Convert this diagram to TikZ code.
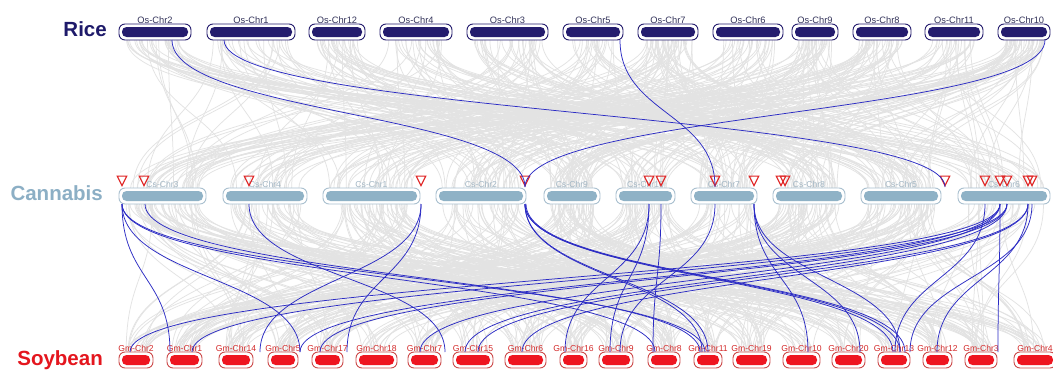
\documentclass[tikz,border=0pt]{standalone}
\usepackage{fontspec}
\setmainfont{Liberation Sans}
\usetikzlibrary{shapes.geometric}
\definecolor{osbar}{HTML}{241C6E}
\definecolor{oslabc}{HTML}{33335A}
\definecolor{ostitle}{HTML}{1E1A6A}
\definecolor{csbar}{HTML}{8FB2C6}
\definecolor{csedge}{HTML}{A9C0CF}
\definecolor{cslabc}{HTML}{A2B6C4}
\definecolor{cstitle}{HTML}{8CAFC5}
\definecolor{gmbar}{HTML}{EE1520}
\definecolor{gmedge}{HTML}{CC4A4A}
\definecolor{gmlabc}{HTML}{D42A2A}
\definecolor{gmtitle}{HTML}{E4161E}
\definecolor{linkblue}{HTML}{2B2BC4}
\definecolor{linkgray}{HTML}{E3E3E3}
\definecolor{trired}{HTML}{E02424}
\tikzset{
  osbox/.style={draw=osbar, line width=0.9pt, fill=white, rounded corners=6pt, inner sep=0pt, outer sep=0pt, label distance=1.5pt},
  osbarst/.style={fill=osbar, rounded corners=4.5pt},
  oslab/.style={font=\fontsize{9.3}{10}\selectfont, text=oslabc, inner sep=0pt},
  csbox/.style={draw=csedge, line width=0.9pt, fill=white, rounded corners=6pt, inner sep=0pt, outer sep=0pt, label distance=2pt},
  csbarst/.style={fill=csbar, rounded corners=4.5pt},
  cslab/.style={font=\fontsize{8.6}{10}\selectfont, text=cslabc, inner sep=0pt},
  gmbox/.style={draw=gmedge, line width=0.9pt, fill=white, rounded corners=6pt, inner sep=0pt, outer sep=0pt, label distance=2.5pt},
  gmbarst/.style={fill=gmbar, rounded corners=4.5pt},
  gmlab/.style={font=\fontsize{8.6}{10}\selectfont, text=gmlabc, inner sep=0pt},
  title/.style={font=\fontsize{20.5}{22}\selectfont\bfseries, inner sep=0pt, anchor=base east},
  graylink/.style={draw=linkgray, line width=0.75pt},
  bluelink/.style={draw=linkblue, line width=0.75pt},
  tri/.style={isosceles triangle, isosceles triangle stretches, shape border rotate=-90,
    minimum width=9.5pt, minimum height=9.5pt, inner sep=0pt, draw=trired, line width=1.1pt, anchor=apex},
}
\newcommand\chrom[7]{%
  \node[#6box, minimum width={#3-#2}, minimum height={#5-#4}, anchor=north west,
        label={[#6lab]above:#7}] (#1) at (#2,#4) {};
  \fill[#6barst] (#2+3,#4+3) rectangle (#3-3,#5-3);}
\newcommand\glink[3]{%
  \coordinate (gs#1) at (#2,204);
  \coordinate (ge#1) at (#3,352);
  \draw[bluelink] (gs#1) .. controls +(0,74) and +(0,-74) .. (ge#1);}
\def\osL{{119,207,309,380,467,563,638,713,792,853,925,998}}
\def\osR{{191,295,365,452,548,623,698,783,838,911,983,1050}}
\def\csL{{119,223,323,436,544,616,691,773,861,958}}
\def\csR{{206,307,420,526,600,675,757,845,941,1050}}
\def\gmL{{119,167,219,268,312,356,408,453,505,560,599,648,694,733,783,832,878,923,965,1014}}
\def\gmR{{153,202,253,298,343,397,441,493,546,587,633,680,722,770,820,865,910,952,997,1053}}
\begin{document}
\begin{tikzpicture}[x=1pt,y=-1pt]
\useasboundingbox (0,0) rectangle (1053,372);
\fill[white] (0,0) rectangle (1053,372);
\clip (0,0) rectangle (1053,372);
% background synteny (gray)
\pgfmathsetseed{2024}
\foreach \i in {1,...,400}{
  \pgfmathsetmacro\ka{int(random(0,11))}
  \pgfmathsetmacro\kb{int(random(0,9))}
  \pgfmathsetmacro\xa{\osL[\ka]+6+rnd*(\osR[\ka]-\osL[\ka]-12)}
  \pgfmathsetmacro\xb{\csL[\kb]+6+rnd*(\csR[\kb]-\csL[\kb]-12)}
  \draw[graylink] (\xa,40) .. controls (\xa,114) and (\xb,114) .. (\xb,188);
}
\foreach \i in {1,...,440}{
  \pgfmathsetmacro\ka{int(random(0,9))}
  \pgfmathsetmacro\kb{int(random(0,19))}
  \pgfmathsetmacro\xa{\csL[\ka]+6+rnd*(\csR[\ka]-\csL[\ka]-12)}
  \pgfmathsetmacro\xb{\gmL[\kb]+5+rnd*(\gmR[\kb]-\gmL[\kb]-10)}
  \draw[graylink] (\xa,204) .. controls (\xa,278) and (\xb,278) .. (\xb,352);
}
% titles
\node[title, text=ostitle] (rice) at (107,36) {Rice};
\node[title, text=cstitle] (cannabis) at (103,200) {Cannabis};
\node[title, text=gmtitle] (soybean) at (103,365) {Soybean};
% rice chromosomes
\chrom{os2}{119}{191}{24}{40}{os}{Os-Chr2}
\chrom{os1}{207}{295}{24}{40}{os}{Os-Chr1}
\chrom{os12}{309}{365}{24}{40}{os}{Os-Chr12}
\chrom{os4}{380}{452}{24}{40}{os}{Os-Chr4}
\chrom{os3}{467}{548}{24}{40}{os}{Os-Chr3}
\chrom{os5}{563}{623}{24}{40}{os}{Os-Chr5}
\chrom{os7}{638}{698}{24}{40}{os}{Os-Chr7}
\chrom{os6}{713}{783}{24}{40}{os}{Os-Chr6}
\chrom{os9}{792}{838}{24}{40}{os}{Os-Chr9}
\chrom{os8}{853}{911}{24}{40}{os}{Os-Chr8}
\chrom{os11}{925}{983}{24}{40}{os}{Os-Chr11}
\chrom{os10}{998}{1050}{24}{40}{os}{Os-Chr10}
% cannabis chromosomes
\chrom{cs3}{119}{206}{188}{204}{cs}{Cs-Chr3}
\chrom{cs4}{223}{307}{188}{204}{cs}{Cs-Chr4}
\chrom{cs1}{323}{420}{188}{204}{cs}{Cs-Chr1}
\chrom{cs2}{436}{526}{188}{204}{cs}{Cs-Chr2}
\chrom{cs9}{544}{600}{188}{204}{cs}{Cs-Chr9}
\chrom{cs10}{616}{675}{188}{204}{cs}{Cs-Chr10}
\chrom{cs7}{691}{757}{188}{204}{cs}{Cs-Chr7}
\chrom{cs8}{773}{845}{188}{204}{cs}{Cs-Chr8}
\chrom{cs5}{861}{941}{188}{204}{cs}{Cs-Chr5}
\chrom{cs6}{958}{1050}{188}{204}{cs}{Cs-Chr6}
% soybean chromosomes
\chrom{gm2}{119}{153}{352}{368}{gm}{Gm-Chr2}
\chrom{gm1}{167}{202}{352}{368}{gm}{Gm-Chr1}
\chrom{gm14}{219}{253}{352}{368}{gm}{Gm-Chr14}
\chrom{gm5}{268}{298}{352}{368}{gm}{Gm-Chr5}
\chrom{gm17}{312}{343}{352}{368}{gm}{Gm-Chr17}
\chrom{gm18}{356}{397}{352}{368}{gm}{Gm-Chr18}
\chrom{gm7}{408}{441}{352}{368}{gm}{Gm-Chr7}
\chrom{gm15}{453}{493}{352}{368}{gm}{Gm-Chr15}
\chrom{gm6}{505}{546}{352}{368}{gm}{Gm-Chr6}
\chrom{gm16}{560}{587}{352}{368}{gm}{Gm-Chr16}
\chrom{gm9}{599}{633}{352}{368}{gm}{Gm-Chr9}
\chrom{gm8}{648}{680}{352}{368}{gm}{Gm-Chr8}
\chrom{gm11}{694}{722}{352}{368}{gm}{Gm-Chr11}
\chrom{gm19}{733}{770}{352}{368}{gm}{Gm-Chr19}
\chrom{gm10}{783}{820}{352}{368}{gm}{Gm-Chr10}
\chrom{gm20}{832}{865}{352}{368}{gm}{Gm-Chr20}
\chrom{gm13}{878}{910}{352}{368}{gm}{Gm-Chr13}
\chrom{gm12}{923}{952}{352}{368}{gm}{Gm-Chr12}
\chrom{gm3}{965}{997}{352}{368}{gm}{Gm-Chr3}
\chrom{gm4}{1014}{1056}{352}{368}{gm}{Gm-Chr4}
% triangles (markers)
\foreach \n/\x in {1/122,2/144,3/249,4/421,5/525,6/649,7/661,8/715,9/754,10/781,11/785,12/945,13/985,14/1000,15/1007,16/1028,17/1032}{
  \node[tri] (t\n) at (\x,187) {};
}
% rice - cannabis highlighted links
\coordinate (o2p) at (172,40);
\coordinate (o1p) at (224,40);
\coordinate (o5p) at (620,40);
\coordinate (o10p) at (1045,40);
\draw[bluelink] (o2p) .. controls +(0,74) and +(0,-74) .. (t5.apex);
\draw[bluelink] (o1p) .. controls +(0,74) and +(0,-74) .. (t12.apex);
\draw[bluelink] (o5p) .. controls +(0,74) and +(0,-74) .. (t8.apex);
\draw[bluelink] (o10p) .. controls +(0,74) and +(0,-74) .. (t5.apex);
% cannabis - soybean highlighted links
\glink{1}{122}{170}
\glink{2}{122}{300}
\glink{3}{122}{655}
\glink{4}{122}{705}
\glink{5}{145}{700}
\glink{6}{249}{445}
\glink{7}{421}{260}
\glink{8}{421}{347}
\glink{9}{525}{702}
\glink{10}{525}{708}
\glink{11}{525}{893}
\glink{12}{525}{900}
\glink{13}{526}{905}
\glink{14}{649}{610}
\glink{15}{649}{565}
\glink{16}{661}{653}
\glink{17}{715}{620}
\glink{18}{754}{808}
\glink{19}{754}{860}
\glink{20}{754}{900}
\glink{21}{1000}{130}
\glink{22}{1007}{192}
\glink{23}{1000}{300}
\glink{24}{1007}{320}
\glink{25}{1000}{420}
\glink{26}{1007}{465}
\glink{27}{1028}{478}
\glink{28}{1028}{522}
\glink{29}{985}{895}
\glink{30}{1032}{910}
\glink{31}{1028}{937}
\glink{32}{1000}{998}
\end{tikzpicture}
\end{document}
